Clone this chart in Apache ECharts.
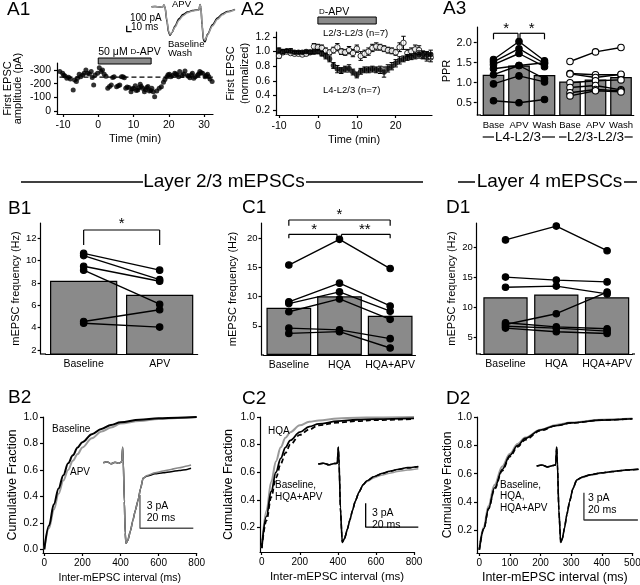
<!DOCTYPE html>
<html><head><meta charset="utf-8">
<script src="https://cdn.jsdelivr.net/npm/echarts@6/dist/echarts.min.js"></script>
<style>html,body{margin:0;padding:0;background:#fff}#c{width:640px;height:585px}</style>
</head><body><div id="c"></div>
<script>
// ================= DATA =================
// A1: single experiment, first EPSC amplitude (pA) vs time (min)
const a1Time = [-10.9,-10.1,-9.8,-9.4,-8.9,-8.4,-7.9,-7.1,-6.7,-6.2,-5.9,-5.4,-5.0,-4.4,-4.0,-3.5,-3.0,-2.5,-2.0,-1.7,-1.3,-0.9,-0.2,0.3,0.8,1.2,1.7,2.2,2.7,3.2,3.7,4.1,4.5,5.2,5.7,6.1,6.6,7.0,7.4,7.8,8.2,8.7,9.3,9.6,10.0,10.5,10.8,11.2,11.5,11.9,12.2,12.6,13.1,13.4,13.8,14.1,14.5,14.9,15.2,15.6,16.0,16.6,17.3,17.9,18.5,18.9,19.5,19.8,20.2,20.6,21.0,21.7,22.0,22.4,22.8,23.1,23.8,24.2,24.6,25.3,25.6,26.0,26.4,26.7,27.1,27.5,28.2,28.5,28.8,29.2,29.6,30.3,30.6,31.0,31.4,31.7,32.3];
const a1Amp = [-288,-276,-262,-256,-240,-246,-234,-154,-227,-215,-239,-268,-250,-263,-276,-300,-276,-270,-288,-245,-190,-263,-276,-317,-288,-300,-268,-255,-166,-180,-190,-245,-251,-178,-185,-190,-251,-250,-244,-166,-175,-171,-141,-160,-166,-185,-150,-154,-170,-195,-180,-166,-141,-155,-171,-180,-146,-150,-166,-140,-105,-146,-166,-178,-210,-230,-251,-265,-268,-250,-259,-276,-270,-263,-250,-288,-259,-270,-293,-259,-255,-244,-265,-276,-240,-251,-263,-270,-288,-280,-276,-251,-260,-268,-250,-234,-215];
const a1BaselineMean = -248;
const a1DashSpan = [-11, 32.5];
const apvPeriod = [0, 15];
const a1TicksX = [-10, 0, 10, 20, 30];
const a1TicksY = [-300, -200, -100, 0];
// A1 inset: evoked EPSC pair (ms, pA)
const a1TraceTime = [63,70,80,86,88,90,94,97,100,104,110,118,126,135,145,155,158,160,162,164,167,170,175,185,195,205,215,230];
const a1TraceBase = [0,2,-3,0,30,-10,-250,-420,-475,-430,-320,-200,-130,-90,-65,-55,-50,35,-20,-300,-560,-585,-460,-300,-190,-120,-80,-45];
const a1TraceApv  = [0,2,-3,0,30,-10,-230,-400,-460,-430,-340,-225,-150,-100,-72,-58,-52,35,-20,-280,-530,-560,-470,-320,-210,-135,-90,-50];

// A2: normalized first EPSC, mean ± SEM
const a2Time = [-10,-9,-8,-7,-6,-5,-4,-3,-2,-1,0,1,2,3,4,5,6,7,8,9,10,11,12,13,14,15,16,17,18,19,20,21,22,23,24,25,26,27,28,29];
const a2L4Mean = [1.02,1.00,1.01,1.01,0.99,0.99,0.99,1.00,0.99,0.99,1.00,0.97,0.94,0.90,0.81,0.76,0.74,0.76,0.77,0.72,0.68,0.73,0.75,0.75,0.76,0.75,0.75,0.72,0.77,0.80,0.84,0.88,0.90,0.92,0.93,0.94,0.96,0.96,0.95,0.96];
const a2L4Sem  = [0.03,0.03,0.02,0.03,0.02,0.02,0.02,0.02,0.02,0.02,0.03,0.03,0.04,0.04,0.04,0.05,0.04,0.04,0.05,0.04,0.04,0.04,0.04,0.04,0.04,0.04,0.05,0.07,0.05,0.05,0.05,0.05,0.04,0.04,0.04,0.04,0.05,0.05,0.05,0.06];
const a2L23Mean = [0.94,0.99,1.00,0.98,0.97,0.97,0.96,0.97,0.99,1.07,1.06,1.05,1.01,0.99,1.02,1.06,1.00,0.99,1.02,0.98,1.04,0.94,0.97,1.00,1.05,1.07,1.06,1.04,1.02,1.01,0.99,1.06,1.12,0.98,1.00,1.03,1.02,0.95,0.93,0.92];
const a2L23Sem  = [0.03,0.03,0.02,0.02,0.02,0.02,0.02,0.02,0.02,0.04,0.04,0.04,0.04,0.03,0.04,0.05,0.04,0.04,0.05,0.05,0.05,0.06,0.05,0.05,0.05,0.05,0.04,0.04,0.04,0.04,0.04,0.06,0.09,0.05,0.05,0.06,0.06,0.05,0.06,0.06];
const a2TicksX = [-10, 0, 10, 20];
const a2TicksY = [0.2, 0.4, 0.6, 0.8, 1.0, 1.2];

// A3: paired-pulse ratio
const a3Categories = ['Base','APV','Wash','Base','APV','Wash'];
const a3BarMeans = [1.20, 1.43, 1.19, 1.03, 1.08, 1.14];
const a3L4Cells = [[1.58,2.03,1.55],[1.52,1.85,1.48],[1.45,1.73,1.40],[1.35,1.43,1.50],[1.20,1.43,1.10],[0.97,1.17,1.02],[0.55,0.50,0.58]];
const a3L23Cells = [[1.53,1.77,1.88],[1.23,1.20,1.20],[1.22,1.13,1.21],[1.00,1.05,1.07],[0.88,0.93,0.82],[0.75,0.83,0.80],[0.67,0.80,0.77]];
const a3TicksY = [0.5, 1.0, 1.5, 2.0];

// B1 / C1 / D1: mEPSC frequency (Hz)
const b1Categories = ['Baseline','APV'];
const b1Means = [8.2, 6.95];
const b1Cells = [[10.65,9.15],[10.45,8.3],[9.5,8.15],[9.15,6.1],[4.55,5.6],[4.4,4.05]];
const b1TicksY = [2, 4, 6, 8, 10, 12];
const c1Categories = ['Baseline','HQA','HQA+APV'];
const c1Means = [8.1, 10.05, 6.7];
const c1Cells = [[15.4,19.8,14.8],[9.1,12.3,8.4],[8.8,10.8,7.5],[7.4,9.6,6.1],[4.6,4.3,2.8],[3.7,4.0,1.2]];
const c1TicksY = [5, 10, 15, 20];
const d1Categories = ['Baseline','HQA','HQA+APV'];
const d1Means = [11.75, 12.2, 11.75];
const d1Cells = [[21.3,23.6,19.5],[15.1,14.6,14.3],[13.4,13.6,12.3],[7.2,9.0,12.6],[7.5,6.8,6.5],[6.9,6.6,6.1],[6.6,6.0,5.7]];
const d1TicksY = [5, 10, 15, 20];

// B2 / C2 / D2: cumulative inter-mEPSC interval distributions
const b2Interval = [0,25,50,75,100,125,150,175,200,250,300,350,400,500,600,700,800];
const b2BaselineCum = [0,0.18,0.34,0.46,0.56,0.65,0.71,0.77,0.81,0.87,0.91,0.94,0.96,0.98,0.99,0.995,1.0];
const b2ApvCum = [0,0.16,0.30,0.42,0.52,0.60,0.67,0.72,0.77,0.84,0.89,0.92,0.95,0.97,0.985,0.993,1.0];
const c2Interval = [0,25,50,75,100,125,150,200,250,300,400,500,600,800];
const c2HqaCum = [0.05,0.32,0.53,0.68,0.78,0.85,0.89,0.94,0.965,0.975,0.99,0.995,0.997,1.0];
const c2BaselineCum = [0.05,0.28,0.46,0.60,0.70,0.78,0.83,0.89,0.93,0.95,0.97,0.98,0.985,0.99];
const c2HqaApvCum = [0.05,0.25,0.42,0.56,0.66,0.74,0.80,0.87,0.91,0.94,0.96,0.97,0.978,0.985];
const d2Interval = [0,15,30,50,75,100,125,150,200,250,300,400,500];
const d2BaselineCum = [0.06,0.21,0.35,0.50,0.63,0.73,0.80,0.85,0.91,0.94,0.96,0.98,0.99];
const d2HqaCum = [0.06,0.22,0.37,0.52,0.65,0.74,0.81,0.855,0.91,0.945,0.962,0.982,0.99];
const d2HqaApvCum = [0.06,0.21,0.35,0.49,0.62,0.72,0.79,0.84,0.905,0.94,0.96,0.98,0.99];
const b2TicksX = [0, 200, 400, 600, 800];
const b2TicksY = [0.0, 0.2, 0.4, 0.6, 0.8, 1.0];
const c2TicksY = [0.2, 0.4, 0.6, 0.8, 1.0];
const d2TicksX = [0, 100, 200, 300, 400, 500];

// Averaged mEPSC inset traces (ms, pA)
const b2TraceTime = [0.6,2,3.5,5,6.5,7.5,7.85,8.1,8.5,8.8,9.1,9.8,10.7,11.7,12.6,13.6,14.6,15.5,17,20,23,26,29,32,33.5];
const b2TraceBase = [0,0.1,-0.1,0.05,-0.05,0.1,1.4,0.1,-3.5,-6.3,-7.26,-7.0,-6.2,-5.2,-4.3,-3.4,-2.3,-1.4,-1.2,-1.0,-0.9,-0.8,-0.7,-0.6,-0.5];
const b2TraceApv  = [0,0.1,-0.1,0.05,-0.05,0.1,1.4,0.1,-3.5,-6.3,-7.26,-7.0,-6.2,-5.2,-4.3,-3.4,-2.3,-1.4,-1.15,-0.9,-0.75,-0.6,-0.45,-0.3,-0.2];
const c2TraceTime = [0,2,4,6,7.2,7.6,7.9,8.4,9.1,10,11,12,13,14,15.5,17,18.5,21,24,27,30,34,38];
const c2TraceBase = [0,0.1,-0.1,0.05,0.1,2.1,0.1,-5.5,-9.8,-9.3,-8.2,-7.0,-5.8,-4.7,-3.5,-2.6,-2.1,-1.6,-1.2,-0.9,-0.7,-0.45,-0.3];
const c2TraceHqa  = [0,0.1,-0.1,0.05,0.1,2.1,0.1,-5.5,-9.8,-9.3,-8.2,-7.0,-5.8,-4.7,-3.5,-2.6,-2.2,-1.75,-1.4,-1.15,-0.95,-0.75,-0.6];
const c2TraceHqaApv = [0,0.1,-0.1,0.05,0.1,2.1,0.1,-5.5,-9.8,-9.3,-8.2,-7.0,-5.8,-4.7,-3.5,-2.6,-2.1,-1.6,-1.25,-0.95,-0.7,-0.5,-0.35];
const d2TraceTime = [0,2,4,6,7.0,7.4,7.7,8.2,8.9,9.5,10.3,11.2,12.2,13.4,14.8,17,20,24,28,33,37.8];
const d2TraceBase = [0,0.1,-0.1,0.05,0.1,2.1,0.1,-4.8,-8.4,-8.0,-6.8,-5.3,-3.9,-2.5,-1.54,-1.2,-0.95,-0.75,-0.6,-0.45,-0.36];
const d2TraceHqa  = [0,0.1,-0.1,0.05,0.1,2.1,0.1,-4.8,-8.4,-8.0,-6.8,-5.3,-3.9,-2.5,-1.6,-1.25,-1.0,-0.8,-0.62,-0.47,-0.38];
const d2TraceHqaApv = [0,0.1,-0.1,0.05,0.1,2.1,0.1,-4.8,-8.4,-8.0,-6.8,-5.3,-3.9,-2.5,-1.54,-1.2,-0.95,-0.75,-0.6,-0.45,-0.36];

// ================= CHART =================
const FONT = "'Liberation Sans', Arial, Helvetica, sans-serif";
const BAR = '#8a8a8a';
const GRAY = '#9a9a9a';
const chart = echarts.init(document.getElementById('c'), null, {renderer:'canvas', width:640, height:585});

const grids = [
  {left:57, top:63, width:156, height:51},        // 0 A1
  {left:276, top:32, width:156, height:83},       // 1 A2
  {left:480.75, top:27, width:153, height:88},    // 2 A3
  {left:45.65, top:223, width:152, height:131},   // 3 B1
  {left:263.5, top:223, width:152, height:132},   // 4 C1
  {left:480.1, top:223, width:152.4, height:131}, // 5 D1
  {left:43, top:417, width:153.7, height:136},    // 6 B2
  {left:260, top:417, width:154, height:135},     // 7 C2
  {left:477, top:417, width:155.7, height:136},   // 8 D2
  {left:120, top:0, width:120, height:50},        // 9 A1 inset
  {left:101.7, top:440, width:92, height:110},    // 10 B2 inset
  {left:318.3, top:440, width:100, height:110},   // 11 C2 inset
  {left:536.7, top:440, width:102, height:110}    // 12 D2 inset
].map(g => Object.assign({show:false, containLabel:false, outerBoundsMode:'none'}, g));

function vAxis(gi, min, max, ticks, o) {
  o = o || {};
  return {
    type:'value', gridIndex:gi, min:min, max:max, inverse:!!o.inverse, offset:o.offset||0,
    axisLine:{show:true, onZero:false, lineStyle:{color:'#000', width:1.2}},
    axisTick:{show:true, length:3, customValues:ticks, lineStyle:{color:'#000', width:1.2}},
    axisLabel:{show:true, customValues:ticks, color:'#000', fontSize:o.fs||10.5, fontFamily:FONT, margin:(o.margin!=null?o.margin:5), formatter:o.fmt||(v=>String(v))},
    splitLine:{show:false},
    name:o.name||'', nameLocation:'middle', nameGap:o.gap||20,
    nameTextStyle:{color:'#000', fontSize:o.nfs||11, fontFamily:FONT, lineHeight:o.lh||12}
  };
}
function cAxis(gi, cats, o) {
  o = o || {};
  return {
    type:'category', gridIndex:gi, data:cats.map((c,i)=>i+':'+c), boundaryGap:true,
    axisLine:{show:true, onZero:false, lineStyle:{color:'#000', width:1.2}},
    axisTick:{show:false},
    axisLabel:{color:'#000', fontSize:o.fs||10.5, fontFamily:FONT, margin:o.margin||5, interval:0, formatter:v=>v.split(':')[1]},
    splitLine:{show:false}
  };
}
function hAxis(gi, min, max) {
  return {type:'value', gridIndex:gi, min:min, max:max, show:false, splitLine:{show:false}};
}
const f1 = v => v.toFixed(1);

const xAxes = [
  vAxis(0, -11.7, 32.55, a1TicksX, {name:'Time (min)', gap:19, margin:6}),
  vAxis(1, -10.77, 29.33, a2TicksX, {name:'Time (min)', gap:19, margin:6}),
  cAxis(2, a3Categories, {fs:9.5, margin:5}),
  cAxis(3, b1Categories, {fs:10.5}),
  cAxis(4, c1Categories, {fs:10.5}),
  cAxis(5, d1Categories, {fs:10.5}),
  vAxis(6, -6.8, 800, b2TicksX, {name:'Inter-mEPSC interval (ms)', gap:19, fs:10, nfs:10.5, margin:5}),
  vAxis(7, -8.9, 800, b2TicksX, {name:'Inter-mEPSC interval (ms)', gap:19, fs:10, nfs:11.5, margin:5}),
  vAxis(8, -7.5, 501, d2TicksX, {name:'Inter-mEPSC interval (ms)', gap:19, fs:10, nfs:12.5, margin:5}),
  hAxis(9, 0, 240), hAxis(10, 0, 34.5), hAxis(11, 0, 38), hAxis(12, 0, 37.8)
];
const yAxes = [
  vAxis(0, -351, 22, a1TicksY, {inverse:true, name:'First EPSC\namplitude (pA)', gap:34, margin:6, nfs:11, lh:10}),
  vAxis(1, 0.1315, 1.2685, a2TicksY, {fmt:f1, name:'First EPSC\n(normalized)', gap:24, margin:6, nfs:11, lh:14}),
  vAxis(2, 0.1925, 2.3925, a3TicksY, {fmt:f1, name:'PPR', gap:24, offset:4, fs:11, nfs:11}),
  vAxis(3, 1.64, 13.37, b1TicksY, {name:'mEPSC frequency (Hz)', gap:17, offset:5, fs:9.5, margin:4}),
  vAxis(4, 0, 22.6, c1TicksY, {name:'mEPSC frequency (Hz)', gap:23, offset:2, fs:9.5, margin:4}),
  vAxis(5, 2.28, 24.12, d1TicksY, {name:'mEPSC frequency (Hz)', gap:18, offset:3.4, fs:9.5, margin:4}),
  vAxis(6, -0.028, 1.0, b2TicksY, {fmt:f1, name:'Cumulative Fraction', gap:24, fs:10.5, nfs:12.5}),
  vAxis(7, 0.0213, 1.0, c2TicksY, {fmt:f1, name:'Cumulative Fraction', gap:25, fs:10.5, nfs:12.5}),
  vAxis(8, 0.037, 1.002, c2TicksY, {fmt:f1, name:'Cumulative Fraction', gap:23, fs:10.5, nfs:12}),
  hAxis(9, -722, 112), hAxis(10, -7.86, 2.05), hAxis(11, -10.75, 3.0), hAxis(12, -9.23, 2.86)
];

const series = [];
const zip = (xs, ys) => xs.map((x,i)=>[x, ys[i]]);
function lineS(gi, data, color, width, dashed, z, smooth) {
  return {type:'line', xAxisIndex:gi, yAxisIndex:gi, data:data, showSymbol:false, symbol:'none',
    smooth:smooth||false, smoothMonotone:'x', silent:true, z:z||3, clip:false,
    lineStyle:{color:color, width:width, type:dashed?[5,3]:'solid'}};
}
// A1
series.push(lineS(0, a1DashSpan.map(t=>[t, a1BaselineMean]), '#000', 1.3, true, 2));
series.push({type:'scatter', xAxisIndex:0, yAxisIndex:0, data:zip(a1Time, a1Amp), symbol:'circle', symbolSize:5, itemStyle:{color:'#000'}, z:3, silent:true});
// A2
function errS(gi, t, m, s, z) {
  return {type:'custom', xAxisIndex:gi, yAxisIndex:gi, z:z, silent:true, clip:false,
    data:t.map((x,i)=>[x, m[i]-s[i], m[i]+s[i]]), encode:{x:0, y:[1,2]},
    renderItem:(p, api) => {
      const x = api.value(0), a = api.coord([x, api.value(1)]), b = api.coord([x, api.value(2)]), w = 2.2;
      const st = {stroke:'#000', lineWidth:1};
      return {type:'group', children:[
        {type:'line', shape:{x1:a[0], y1:a[1], x2:b[0], y2:b[1]}, style:st},
        {type:'line', shape:{x1:a[0]-w, y1:a[1], x2:a[0]+w, y2:a[1]}, style:st},
        {type:'line', shape:{x1:b[0]-w, y1:b[1], x2:b[0]+w, y2:b[1]}, style:st}]};
    }};
}
series.push(errS(1, a2Time, a2L23Mean, a2L23Sem, 3));
series.push({type:'scatter', xAxisIndex:1, yAxisIndex:1, data:zip(a2Time, a2L23Mean), symbol:'circle', symbolSize:5.5, itemStyle:{color:'#fff', borderColor:'#000', borderWidth:1}, z:4, silent:true});
series.push(errS(1, a2Time, a2L4Mean, a2L4Sem, 5));
series.push({type:'scatter', xAxisIndex:1, yAxisIndex:1, data:zip(a2Time, a2L4Mean), symbol:'circle', symbolSize:5.5, itemStyle:{color:'#000'}, z:6, silent:true});
// bar panels
function barS(gi, data, gap) {
  return {type:'bar', xAxisIndex:gi, yAxisIndex:gi, data:data, barCategoryGap:gap, silent:true, z:1,
    itemStyle:{color:BAR, borderColor:'#000', borderWidth:1.2}};
}
function cellS(gi, idx, vals, filled) {
  return {type:'line', xAxisIndex:gi, yAxisIndex:gi, data:idx.map((k,j)=>[k, vals[j]]), symbol:'circle', symbolSize:6.5, showSymbol:true, silent:true, z:4,
    itemStyle:{color:filled?'#000':'#fff', borderColor:'#000', borderWidth:1.1},
    lineStyle:{color:'#000', width:1.4}};
}
series.push(barS(2, a3BarMeans, '15%'));
a3L4Cells.forEach(c => series.push(cellS(2, [0,1,2], c, true)));
a3L23Cells.forEach(c => series.push(cellS(2, [3,4,5], c, false)));
series.push(barS(3, b1Means, '11.5%'));
b1Cells.forEach(c => series.push(cellS(3, [0,1], c, true)));
series.push(barS(4, c1Means, '11.7%'));
c1Cells.forEach(c => series.push(cellS(4, [0,1,2], c, true)));
series.push(barS(5, d1Means, '12.8%'));
d1Cells.forEach(c => series.push(cellS(5, [0,1,2], c, true)));
// cumulative curves
series.push(lineS(6, zip(b2Interval, b2ApvCum), GRAY, 2, false, 3, 0.35));
series.push(lineS(6, zip(b2Interval, b2BaselineCum), '#000', 2, false, 4, 0.35));
series.push(lineS(7, zip(c2Interval, c2HqaCum), GRAY, 2, false, 3, 0.35));
series.push(lineS(7, zip(c2Interval, c2BaselineCum), '#000', 1.8, false, 4, 0.35));
series.push(lineS(7, zip(c2Interval, c2HqaApvCum), '#000', 1.8, true, 5, 0.35));
series.push(lineS(8, zip(d2Interval, d2HqaCum), GRAY, 2.2, false, 3, 0.35));
series.push(lineS(8, zip(d2Interval, d2BaselineCum), '#000', 1.6, false, 4, 0.35));
series.push(lineS(8, zip(d2Interval, d2HqaApvCum), '#000', 1.6, true, 5, 0.35));
// inset traces
series.push(lineS(9, zip(a1TraceTime, a1TraceBase), '#000', 1.5, false, 3, 0.3));
series.push(lineS(9, zip(a1TraceTime, a1TraceApv), GRAY, 1.5, false, 4, 0.3));
series.push(lineS(10, zip(b2TraceTime, b2TraceBase), '#000', 1.5, false, 6, 0.2));
series.push(lineS(10, zip(b2TraceTime, b2TraceApv), '#888', 1.5, false, 7, 0.2));
series.push(lineS(11, zip(c2TraceTime, c2TraceHqa), GRAY, 1.5, false, 6, 0.2));
series.push(lineS(11, zip(c2TraceTime, c2TraceBase), '#000', 1.5, false, 7, 0.2));
series.push(lineS(11, zip(c2TraceTime, c2TraceHqaApv), '#000', 1.5, true, 8, 0.2));
series.push(lineS(12, zip(d2TraceTime, d2TraceHqa), GRAY, 1.5, false, 6, 0.2));
series.push(lineS(12, zip(d2TraceTime, d2TraceBase), '#000', 1.5, false, 7, 0.2));
series.push(lineS(12, zip(d2TraceTime, d2TraceHqaApv), '#000', 1.5, true, 8, 0.2));
// scale bars (corner in inset data units, lengths in ms / pA)
function scaleBar(gi, x0, y0, ms, pA, color) {
  series.push(lineS(gi, [[x0, y0 + pA], [x0, y0], [x0 + ms, y0]], color || '#555', 1.3, false, 6, false));
}
scaleBar(9, 13.4, -417, 10, 100, '#000');
scaleBar(10, 14.35, -5.9, 20, 3);
scaleBar(11, 18.0, -7.9, 20, 3, '#000');
scaleBar(12, 17.5, -5.93, 20, 3, '#333');

chart.setOption({animation:false, backgroundColor:'#fff', grid:grids, xAxis:xAxes, yAxis:yAxes, series:series});

// ================= ANNOTATIONS =================
const G = [];
function T(x, y, s, o) {
  o = o || {};
  const st = {text:s, fill:'#000', font:(o.fs||10)+'px '+FONT, fontSize:o.fs||10, fontFamily:FONT,
    align:o.align||'left', verticalAlign:'middle', textAlign:o.align||'left', textVerticalAlign:'middle'};
  if (o.rich) st.rich = o.rich;
  G.push({type:'text', x:x, y:y, z:50, silent:true, style:st});
}
function L(x1, y1, x2, y2, w) {
  G.push({type:'line', z:50, silent:true, shape:{x1:x1, y1:y1, x2:x2, y2:y2}, style:{stroke:'#000', lineWidth:w||1.2}});
}
function R(x, y, w, h) {
  G.push({type:'rect', z:50, silent:true, shape:{x:x, y:y, width:w, height:h}, style:{fill:BAR, stroke:'#000', lineWidth:1}});
}
const P = (gi, x, y) => chart.convertToPixel({xAxisIndex:gi, yAxisIndex:gi}, [x, y]);
const STAR_DY = 3.5;

// panel letters
[['A1',7,10],['A2',241,10],['A3',443,9],['B1',8,209],['C1',242,208],['D1',446,208],['B2',8,398],['C2',242,399],['D2',446,399]]
  .forEach(d => T(d[1], d[2], d[0], {fs:19}));
// section headers
L(21,182,143,182,1.5); T(224,182,'Layer 2/3 mEPSCs',{fs:19, align:'center'}); L(306,182,423,182,1.5);
L(458,182,475,182,1.5); T(549.5,182,'Layer 4 mEPSCs',{fs:19, align:'center'}); L(624,182,637,182,1.5);

// join category x-axis lines to the offset y-axes
L(476.7,115,481,115,1.2); L(40.6,354,46,354,1.2); L(261.4,355,264,355,1.2); L(476.6,354,481,354,1.2); L(632,354,635,354,1.2);

const sc = {sc:{fontSize:8, fontFamily:FONT, fill:'#000'}};
// A1 drug bar + labels
{
  const a = P(0, apvPeriod[0], 0)[0], b = P(0, apvPeriod[1], 0)[0];
  R(a, 58, b - a, 6);
  T(a, 52, '50 μM {sc|D}-APV', {fs:10.5, rich:sc});
  T(172, 4.5, 'APV', {fs:9.5}); T(168, 44, 'Baseline', {fs:9.5}); T(168, 53, 'Wash', {fs:9.5});
  T(130, 18, '100 pA', {fs:10}); T(131, 27, '10 ms', {fs:10});
}
// A2
{
  const a = P(1, apvPeriod[0], 1)[0], b = P(1, apvPeriod[1], 1)[0];
  R(a, 17, b - a, 7);
  T(a + 1, 12, '{sc|D}-APV', {fs:10.5, rich:sc});
  T(323, 33, 'L2/3-L2/3 (n=7)', {fs:9.5}); T(323, 90, 'L4-L2/3 (n=7)', {fs:9.5});
}
// A3 brackets and group labels
{
  const c = [0,1,2].map(k => P(2, k, 1)[0]);
  L(c[0],39.3,c[0],33.3); L(c[0],33.3,c[1]-1,33.3); L(c[1]-1,33.3,c[1]-1,39.3);
  L(c[1]+1,39.3,c[1]+1,33.3); L(c[1]+1,33.3,c[2],33.3); L(c[2],33.3,c[2],39.3);
  T((c[0]+c[1])/2, 25+STAR_DY, '*', {fs:15, align:'center'});
  T((c[1]+c[2])/2, 25+STAR_DY, '*', {fs:15, align:'center'});
  L(482.7,137,494,137,1.2); T(518,137,'L4-L2/3',{fs:13.5, align:'center'}); L(542,137,555,137,1.2);
  L(559,137,566.5,137,1.2); T(595.5,137,'L2/3-L2/3',{fs:13.5, align:'center'}); L(624.5,137,632.7,137,1.2);
}
// B1 bracket
{
  const c0 = P(3, 0, 5)[0], c1 = P(3, 1, 5)[0];
  L(c0,245,c0,230); L(c0,230,c1,230); L(c1,230,c1,245);
  T((c0+c1)/2, 220+STAR_DY, '*', {fs:15, align:'center'});
}
// C1 brackets
{
  const c = [0,1,2].map(k => P(4, k, 5)[0]);
  L(c[0],225.7,c[0],220); L(c[0],220,c[2],220); L(c[2],220,c[2],225.7);
  T((c[0]+c[2])/2, 211.7+STAR_DY, '*', {fs:15, align:'center'});
  L(c[0],238.3,c[0],234.3); L(c[0],234.3,c[1]-2.5,234.3); L(c[1]-2.5,234.3,c[1]-2.5,238.3);
  L(c[1]+2,238.3,c[1]+2,234.3); L(c[1]+2,234.3,c[2],234.3); L(c[2],234.3,c[2],238.3);
  T((c[0]+c[1])/2, 226.7+STAR_DY, '*', {fs:15, align:'center'});
  T((c[1]+c[2])/2, 226.7+STAR_DY, '**', {fs:15, align:'center'});
}
// B2 / C2 / D2 labels
T(52,429,'Baseline',{fs:10}); T(70,472,'APV',{fs:10});
T(146.7,506,'3 pA',{fs:10.5}); T(146.7,518,'20 ms',{fs:10.5});
T(268,431.7,'HQA',{fs:10}); T(275,485,'Baseline,',{fs:10}); T(275,497,'HQA+APV',{fs:10});
T(372,513,'3 pA',{fs:10.5}); T(372,525,'20 ms',{fs:10.5});
T(500,485,'Baseline,',{fs:10}); T(500,496.5,'HQA,',{fs:10}); T(500,508,'HQA+APV',{fs:10});
T(588,498,'3 pA',{fs:10.5}); T(588,510.5,'20 ms',{fs:10.5});

chart.setOption({graphic:{elements:G}});
</script></body></html>
